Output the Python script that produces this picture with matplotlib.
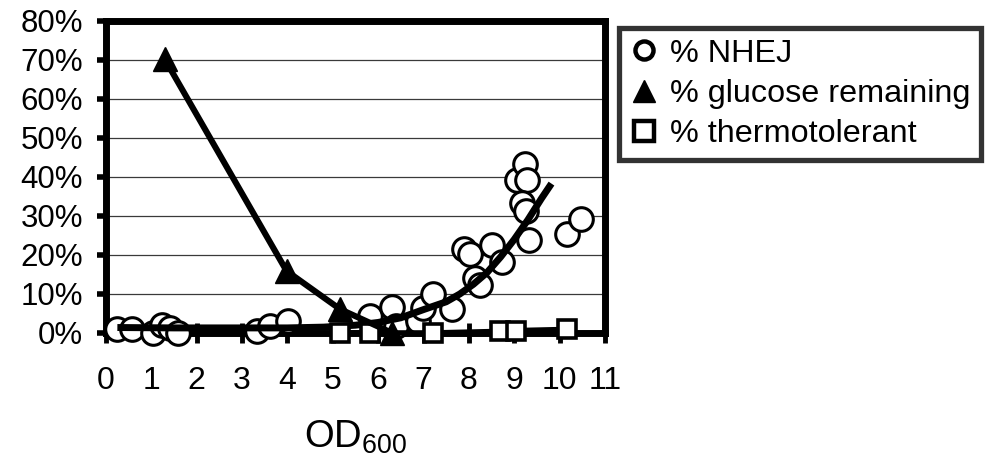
import matplotlib
matplotlib.use("Agg")
import matplotlib.pyplot as plt
from matplotlib.lines import Line2D

plt.rcParams['font.family'] = ['Liberation Sans', 'DejaVu Sans']
plt.rcParams['mathtext.fontset'] = 'custom'
plt.rcParams['mathtext.rm'] = 'Liberation Sans'
plt.rcParams['mathtext.it'] = 'Liberation Sans'

# % NHEJ (open circles)
nhej_od = [0.25, 0.57, 1.04, 1.23, 1.41, 1.59, 3.32, 3.61, 4.02, 5.83, 6.31, 6.39,
           6.87, 6.98, 7.21, 7.62, 7.89, 8.03, 8.13, 8.24, 8.52, 8.74, 9.07, 9.24,
           9.29, 9.18, 9.26, 9.33, 10.16, 10.48]
nhej_pct = [0.9, 0.9, 0.1, 2.1, 1.4, 0.1, 0.5, 1.8, 3.1, 4.4, 6.7, 1.8,
            3.1, 6.3, 9.9, 6.1, 21.5, 20.2, 14.2, 12.3, 22.6, 18.1, 39.1, 43.4,
            39.3, 33.3, 31.4, 23.9, 25.4, 29.2]

# trend line through % NHEJ
trend_od = [0.25, 1.5, 3.0, 4.0, 4.8, 5.5, 6.0, 6.5, 7.0, 7.5, 7.8, 8.1, 8.4, 8.7,
            9.0, 9.3, 9.6, 9.82]
trend_pct = [1.4, 1.3, 1.3, 1.3, 1.5, 2.0, 2.7, 3.9, 6.0, 8.0, 10.0, 12.5, 15.5, 19.5,
             24.0, 29.0, 34.5, 38.3]

# % glucose remaining (filled triangles)
glucose_od = [1.29, 3.98, 5.16, 6.31]
glucose_pct = [70.3, 15.9, 6.1, 0.0]

# % thermotolerant (open squares)
thermo_od = [5.16, 5.83, 7.21, 8.68, 9.04, 10.16]
thermo_pct = [0.0, 0.0, 0.0, 0.4, 0.6, 0.9]

x_ticks = list(range(0, 12))
y_ticks = [0, 10, 20, 30, 40, 50, 60, 70, 80]
y_tick_labels = ["0%", "10%", "20%", "30%", "40%", "50%", "60%", "70%", "80%"]

fig = plt.figure(figsize=(9.9, 4.61), dpi=100)
ax = fig.add_axes([0.1071, 0.2777, 0.504, 0.6768])

ax.set_xlim(0, 11)
ax.set_ylim(0, 80)
ax.set_xticks(x_ticks)
ax.set_yticks(y_ticks)
ax.set_yticklabels(y_tick_labels)

ax.grid(axis='y', color='#3a3a3a', linewidth=0.9)
ax.set_axisbelow(True)

for s in ax.spines.values():
    s.set_linewidth(5)
    s.set_zorder(2.5)

ax.tick_params(axis='y', direction='out', length=6.5, width=4, pad=10, labelsize=22.5)
ax.tick_params(axis='x', direction='inout', length=14, width=3.5, pad=17, labelsize=23)

# NHEJ circles
ax.plot(nhej_od, nhej_pct, linestyle='none', marker='o', markersize=17,
        markerfacecolor='white', markeredgecolor='black', markeredgewidth=2.2,
        zorder=3, clip_on=False)
# trend line
ax.plot(trend_od, trend_pct, color='black', linewidth=5, solid_capstyle='butt',
        zorder=4, clip_on=False)
# thermotolerant squares
ax.plot(thermo_od, thermo_pct, color='black', linewidth=4, marker='s', markersize=13,
        markerfacecolor='white', markeredgecolor='black', markeredgewidth=2.6,
        zorder=5, clip_on=False)
# glucose triangles
ax.plot(glucose_od, glucose_pct, color='black', linewidth=4.4, marker='^', markersize=17,
        markerfacecolor='black', markeredgecolor='black', zorder=6, clip_on=False)

ax.set_xlabel("OD$_{600}$", fontsize=27.5, labelpad=16)

handles = [
    Line2D([], [], linestyle='none', marker='o', markersize=13, markerfacecolor='white',
           markeredgecolor='black', markeredgewidth=3.2),
    Line2D([], [], linestyle='none', marker='^', markersize=16, color='black'),
    Line2D([], [], linestyle='none', marker='s', markersize=15, markerfacecolor='white',
           markeredgecolor='black', markeredgewidth=3.2),
]
labels = ["% NHEJ", "% glucose remaining", "% thermotolerant"]
leg = fig.legend(handles, labels, loc='upper left', bbox_to_anchor=(619 / 990, 1 - 28 / 461),
                 fontsize=23.3, frameon=True, fancybox=False, handlelength=0.9,
                 handletextpad=0.35, borderpad=0.33, labelspacing=0.32, borderaxespad=0)
leg.get_frame().set_edgecolor('black')
leg.get_frame().set_linewidth(3.8)

fig.savefig("out.png", dpi=100)
